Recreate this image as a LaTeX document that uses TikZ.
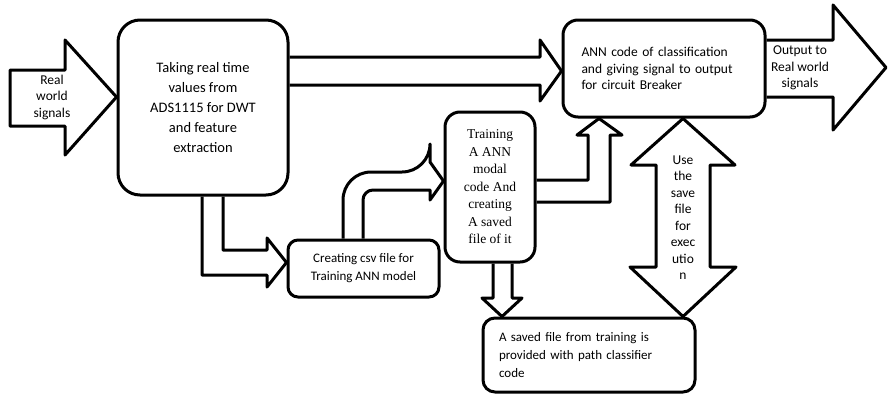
\documentclass[tikz,border=0pt]{standalone}
\usepackage{fontspec}
\setmainfont{Carlito}
\newfontfamily\trainfont{Liberation Serif}
\begin{document}
\begin{tikzpicture}[x=1pt, y=-1pt, line width=3pt, line join=round,
  procbox/.style = {draw, rounded corners=#1, inner sep=0pt},
  procbox/.default = 15pt,
  blockarrow/.style = {draw, fill=white},
  label/.style = {align=center, inner sep=0pt, font=\fontsize{13.5}{16.5}\selectfont}]
  \useasboundingbox (0,0) rectangle (890,394);

  \node [procbox=22pt, minimum width=170pt, minimum height=175pt, align=center,
         font=\fontsize{14.5}{20}\selectfont] (take) at (203,107.5)
        {Taking real time\\values from\\ADS1115 for DWT\\and feature\\extraction};
  \node [procbox, minimum width=202pt, minimum height=97pt, text width=165pt, align=left,
         font=\fontsize{13.5}{16.5}\selectfont] (ann) at (664,68.5)
        {ANN code of classification\\and giving signal to output\\for circuit Breaker};
  \node [procbox, minimum width=90pt, minimum height=150pt, align=center,
         font=\trainfont\fontsize{13.5}{17.5}\selectfont] (train) at (490,187)
        {Training\\A ANN\\modal\\code And\\creating\\A saved\\file of it};
  \node [procbox=10pt, minimum width=151pt, minimum height=57pt, align=center,
         font=\fontsize{13}{18}\selectfont] (csv) at (363.5,268.5)
        {Creating csv file for\\Training ANN model};
  \node [procbox=12pt, minimum width=212pt, minimum height=74pt, text width=180pt, align=left,
         font=\fontsize{13}{18}\selectfont] (saved) at (589,355)
        {A saved file from training is\\provided with path classifier\\code};

  \draw [blockarrow] (10,70) -- (65,70) -- (65,40) -- (take.west |- 0,97)
    -- (65,155) -- (65,126) -- (10,126) -- cycle;
  \node [label] (realin) at (52,97) {Real\\world\\signals};

  \draw (take.east |- 0,57) -- (540,57) -- (540,40) -- (ann.west |- 0,71)
    -- (540,101) -- (540,85) -- (take.east |- 0,85);

  \draw (ann.east |- 0,40) -- (833,40) -- (833,5) -- (886,67.5)
    -- (833,130) -- (833,97) -- (ann.east |- 0,97);
  \node [label] (realout) at (800,68) {Output to\\Real world\\signals};

  \draw (take.south -| 202,0) -- (202,275) -- (267,275) -- (267,287)
    -- (csv.west |- 0,262.5) -- (267,238) -- (267,250) -- (223,250) -- (take.south -| 223,0);

  \draw (csv.north -| 343,0) [rounded corners=28pt] |- (430,172) [sharp corners]
    -- (430,162) -- (train.west |- 0,181) -- (430,200) -- (430,190)
    [rounded corners=10pt] -| (363,0 |- csv.north);

  \draw (train.east |- 0,180) -- (588,180) -- (588,135) -- (577,135)
    -- (ann.south -| 599,0) -- (622,135) -- (610,135) -- (610,202) -- (train.east |- 0,202);

  \draw (train.south -| 493,0) -- (493,298) -- (482,298) -- (saved.north -| 502,0)
    -- (522,298) -- (512,298) -- (train.south -| 512,0);

  \draw [blockarrow] (ann.south -| 683,0) -- (735,165) -- (710,165) -- (710,267) -- (736,267)
    -- (saved.north -| 683,0) -- (630,267) -- (656,267) -- (656,165) -- (631,165) -- cycle;
  \node [label] (usefile) at (683,217.5) {Use\\the\\save\\file\\for\\exec\\utio\\n};
\end{tikzpicture}
\end{document}
